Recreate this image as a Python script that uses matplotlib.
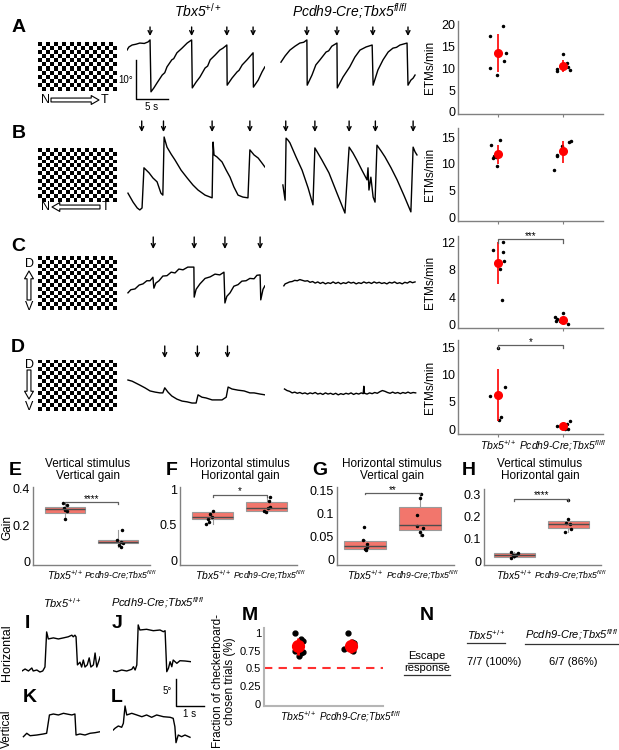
import numpy as np
import matplotlib
matplotlib.use('Agg')
import matplotlib.pyplot as plt
from matplotlib.lines import Line2D

plt.rcParams['font.family'] = ['Liberation Sans', 'DejaVu Sans']
plt.rcParams['mathtext.fontset'] = 'custom'
plt.rcParams['mathtext.rm'] = 'Liberation Sans'
plt.rcParams['mathtext.it'] = 'Liberation Sans:italic'
plt.rcParams['mathtext.bf'] = 'Liberation Sans:bold'

WT = 'Tbx5$^{+/+}$'
KO = 'Pcdh9-Cre;Tbx5$^{fl/fl}$'

# ---------------- data ----------------
# eye position traces, rows A-D: time (s), position (deg)
a_wt_t = [0, 0.3, 0.8, 1.4, 2.0, 2.7, 3.3, 3.6, 3.75, 4.2, 4.7, 5.5, 5.9, 6.25, 7.0, 7.3, 7.8, 8.6, 9.4, 10.1,
          10.2, 10.8, 11.4, 12.2, 12.6, 13.0, 13.75, 14.5, 15.0, 15.6, 15.65, 16.4, 17.2, 17.5, 18.0, 18.75, 19.7,
          19.75, 20.5, 21.1, 21.55]
a_wt_y = [12.8, 13.6, 14.1, 14.3, 14.6, 14.5, 14.9, 15.4, 2.1, 3.1, 4.4, 6.4, 7.0, 8.5, 10.3, 10.6, 12.1, 13.3, 14.6, 15.4,
          3.1, 4.6, 5.9, 8.2, 8.7, 10.3, 11.5, 12.8, 13.3, 14.1, 3.8, 5.6, 7.2, 7.6, 9.0, 10.3, 12.1,
          3.3, 5.1, 7.2, 8.5]
a_ko_t = [0.15, 0.8, 1.55, 2.35, 3.1, 3.7, 4.2, 4.25, 5.0, 5.6, 6.25, 7.2, 7.6, 8.1, 8.9, 8.95, 9.85, 10.9, 11.7, 12.5,
          13.45, 14.4, 14.55, 15.3, 16.1, 16.9, 17.65, 18.2, 18.75, 19.85, 20.0, 20.45, 20.8, 21.1]
a_ko_y = [9.7, 11.3, 12.8, 13.8, 14.6, 14.8, 15.4, 3.8, 6.4, 9.0, 10.3, 12.3, 12.6, 13.8, 14.6, 3.1, 5.9, 8.5, 11.0, 12.8,
          13.6, 14.1, 3.8, 7.7, 10.3, 12.3, 13.3, 13.5, 14.1, 14.6, 3.8, 5.1, 5.6, 6.4]
b_wt_t = [0.15, 0.95, 1.6, 2.0, 2.35, 2.65, 3.45, 4.05, 4.7, 5.3, 5.6, 5.8, 6.25, 6.9, 7.5, 8.45, 9.4, 10.3, 11.1, 12.2,
          13.3, 13.45, 13.6, 14.05, 14.85, 15.5, 16.1, 16.7, 17.35, 18.1, 18.9, 19.2, 19.85, 20.5, 21.1, 21.55]
b_wt_y = [5.6, 3.3, 1.8, 1.3, 1.8, 12.1, 10.8, 9.5, 8.5, 5.6, 5.1, 20.0, 17.4, 15.6, 14.1, 11.5, 9.5, 7.7, 6.4, 5.1,
          4.4, 18.7, 15.4, 14.9, 13.6, 11.5, 9.7, 7.2, 5.1, 4.6, 4.4, 16.7, 15.4, 14.6, 13.3, 12.3]
b_ko_t = [0.45, 0.8, 0.95, 1.25, 1.55, 2.5, 3.45, 4.4, 5.15, 5.45, 6.55, 7.65, 8.9, 10.15, 10.8, 11.4, 12.0, 12.8, 13.6,
          13.75, 13.9, 14.2, 14.55, 14.85, 15.15, 15.8, 16.4, 17.35, 18.3, 19.4, 20.45, 20.8, 21.1, 21.4]
b_ko_y = [7.7, 3.8, 19.7, 19.2, 18.5, 14.9, 11.5, 6.9, 2.6, 17.2, 14.1, 10.8, 5.6, 0.5, 17.4, 15.9, 14.1, 11.5, 9.0,
          12.1, 6.4, 9.7, 4.6, 3.3, 17.9, 16.4, 14.9, 12.1, 9.0, 4.9, 0.8, 17.4, 16.2, 15.4]
c_wt_t = [0.15, 0.6, 1.25, 1.9, 2.5, 3.1, 3.6, 4.05, 4.2, 4.5, 5.0, 5.6, 6.25, 6.9, 7.5, 8.1, 8.75, 9.5, 10.45,
          10.5, 10.8, 11.4, 12.2, 13.0, 13.75, 14.5, 15.15, 15.3, 15.6, 16.1, 16.7, 17.35, 17.95, 18.6, 19.2,
          19.85, 20.3, 20.8, 20.9, 21.25, 21.55]
c_wt_y = [4.4, 5.2, 5.4, 6.4, 6.7, 7.5, 7.5, 8.4, 5.6, 6.9, 7.5, 8.7, 8.8, 9.7, 9.5, 10.5, 10.3, 11.0, 11.0,
          3.3, 5.3, 6.7, 8.1, 8.5, 9.2, 9.0, 9.7, 1.8, 3.5, 4.4, 6.1, 6.5, 7.4, 7.5, 8.1,
          8.0, 8.9, 9.0, 2.6, 5.3, 6.2]
c_ko_t = [0.6, 0.8, 1.1, 1.5, 1.9, 2.3, 2.7, 3.1, 3.5, 3.9, 4.3, 4.7, 5.1, 5.5, 5.9, 6.3, 6.7, 7.1, 7.5, 7.9, 8.3, 8.7,
          9.1, 9.5, 9.9, 10.3, 10.7, 11.1, 11.5, 11.9, 12.3, 12.7, 13.1, 13.5, 13.9, 14.3, 14.7, 15.1, 15.5, 15.9,
          16.3, 16.7, 17.1, 17.5, 17.9, 18.3, 18.7, 19.1, 19.5, 19.9, 20.3, 20.7, 21.1]
c_ko_y = [6.2, 6.7, 6.9, 7.2, 7.3, 7.6, 7.5, 7.8, 7.6, 7.4, 7.5, 7.1, 7.3, 6.9, 7.2, 6.8, 7.1, 6.7, 7.0, 6.8, 7.2, 6.8,
          7.1, 6.7, 7.0, 6.8, 7.2, 6.9, 7.1, 6.7, 7.0, 6.8, 7.2, 6.9, 7.1, 6.8, 7.2, 6.9, 7.1, 6.8,
          7.0, 6.7, 7.1, 6.9, 7.2, 6.8, 7.0, 6.7, 7.1, 6.9, 7.3, 7.0, 7.2]
d_wt_t = [0.15, 0.8, 1.4, 2.0, 2.8, 3.6, 4.4, 5.15, 5.6, 5.9, 6.4, 7.0, 7.8, 8.6, 9.4, 10.15, 10.8, 11.1, 11.7, 12.35,
          13.3, 14.2, 14.85, 15.5, 15.8, 16.4, 17.35, 18.3, 19.2, 19.85, 20.8, 21.55]
d_wt_y = [8.2, 7.9, 7.4, 6.9, 6.2, 5.4, 5.1, 4.9, 4.9, 6.2, 5.1, 4.1, 3.3, 2.8, 2.6, 2.3, 2.3, 4.4, 3.8, 3.6,
          3.1, 3.1, 3.1, 3.8, 6.4, 5.9, 5.6, 5.4, 4.9, 4.9, 4.6, 4.4]
d_ko_t = [0.7, 1.1, 1.5, 1.9, 2.3, 2.7, 3.1, 3.5, 3.9, 4.3, 4.7, 5.1, 5.5, 5.9, 6.3, 6.7, 7.1, 7.5, 7.9, 8.3, 8.7,
          9.1, 9.5, 9.9, 10.3, 10.7, 11.1, 11.5, 11.9, 12.3, 12.7, 13.0, 13.1, 13.2, 13.6, 14.0, 14.4, 14.8, 15.2,
          15.6, 16.0, 16.4, 16.8, 17.2, 17.6, 18.0, 18.4, 18.8, 19.2, 19.6, 20.0, 20.4, 20.8, 21.2]
d_ko_y = [5.9, 5.5, 5.3, 4.9, 5.1, 4.8, 5.0, 4.7, 4.9, 4.6, 4.9, 4.7, 5.0, 4.6, 4.8, 4.5, 4.9, 4.6, 4.8, 4.5, 4.8,
          4.4, 4.7, 4.5, 4.8, 4.6, 4.9, 4.5, 4.8, 4.6, 4.9, 4.7, 6.6, 4.8, 4.6, 4.9, 4.7, 5.0, 4.8,
          5.2, 5.5, 5.3, 5.0, 4.8, 5.1, 4.8, 5.0, 4.7, 5.0, 4.8, 5.1, 4.8, 5.0, 4.9]

# ETM times marked by arrows (s)
arr_a_wt = [3.6, 10.1, 15.6, 19.7]
arr_a_ko = [4.2, 8.9, 14.5, 20.0]
arr_b_wt = [2.3, 5.7, 13.3, 19.2]
arr_b_ko = [0.9, 5.45, 10.8, 14.9, 20.8]
arr_c_wt = [4.1, 10.5, 15.3, 20.8]
arr_d_wt = [5.9, 11.0, 15.7]

# ETM rates (ETMs/min)
etm_a_wt = [17.5, 19.8, 13.5, 11.6, 10.0, 8.4]
etm_a_ko = [13.2, 9.8, 9.5, 11.3, 10.2, 9.6]
etm_b_wt = [13.6, 14.5, 11.5, 11.0, 11.2, 9.6]
etm_b_ko = [8.8, 11.7, 11.5, 13.3, 14.0, 14.3]
etm_c_wt = [10.9, 12.0, 10.6, 9.3, 8.1, 3.6]
etm_c_ko = [1.1, 0.8, 0.5, 0.5, 1.7, 0.15]
etm_d_wt = [14.9, 6.0, 6.0, 7.7, 2.3, 1.6]
etm_d_ko = [0.6, 0.9, 1.4, 0.1, 0.05, 0.5]
etm_mean = {'A': [13.5, 10.6], 'B': [11.9, 12.3], 'C': [9.0, 0.75], 'D': [6.3, 0.6]}
etm_lo = {'A': [9.1, 9.2], 'B': [10.0, 10.2], 'C': [6.0, 0.5], 'D': [1.5, 0.4]}
etm_hi = {'A': [17.8, 11.9], 'B': [13.6, 14.3], 'C': [12.0, 1.0], 'D': [11.0, 0.8]}
# horizontal jitter of the dots
jit_a = ([-0.12, 0.08, 0.13, 0.09, -0.13, -0.02], [0.0, -0.1, -0.1, 0.06, 0.08, 0.1])
jit_b = ([-0.1, 0.03, -0.06, -0.07, -0.03, -0.02], [-0.14, -0.1, -0.09, -0.02, 0.09, 0.13])
jit_c = ([-0.08, 0.08, 0.07, 0.09, 0.03, 0.06], [-0.13, -0.09, -0.11, -0.04, 0.0, 0.08])
jit_d = ([0.0, -0.12, 0.03, 0.11, 0.05, 0.01], [-0.1, 0.06, 0.1, 0.03, 0.08, -0.02])

# gains: points and box stats [whislo, q1, med, q3, whishi]
gain_e = ([0.32, 0.31, 0.295, 0.285, 0.28, 0.236], [0.173, 0.118, 0.107, 0.10, 0.077, 0.09])
box_e = ([0.236, 0.269, 0.288, 0.302, 0.32], [0.077, 0.10, 0.109, 0.118, 0.173])
gain_f = ([0.70, 0.66, 0.62, 0.59, 0.54, 0.52], [0.90, 0.845, 0.75, 0.74, 0.68, 0.70])
box_f = ([0.52, 0.587, 0.62, 0.68, 0.70], [0.667, 0.70, 0.74, 0.82, 0.89])
gain_g = ([0.071, 0.043, 0.034, 0.024, 0.021, 0.028], [0.143, 0.134, 0.098, 0.074, 0.07, 0.061, 0.053])
box_g = ([0.02, 0.024, 0.031, 0.041, 0.044], [0.052, 0.064, 0.075, 0.114, 0.14])
gain_h = ([0.041, 0.036, 0.029, 0.021, 0.015, 0.026], [0.274, 0.19, 0.172, 0.166, 0.143, 0.131])
box_h = ([0.015, 0.018, 0.027, 0.038, 0.042], [0.131, 0.151, 0.166, 0.181, 0.19])
gjit_e = ([-0.03, 0.03, -0.02, 0.01, 0.04, 0.0], [0.08, -0.02, 0.06, 0.09, 0.06, 0.02])
gjit_f = ([0.0, -0.06, -0.02, -0.09, -0.07, -0.12], [0.06, 0.04, 0.05, 0.03, -0.02, -0.06])
gjit_g = ([-0.01, -0.03, 0.03, 0.0, 0.02, 0.04], [0.02, 0.0, -0.05, -0.06, 0.06, 0.0, 0.03])
gjit_h = ([-0.05, 0.07, -0.02, 0.0, -0.06, 0.04], [0.0, 0.0, -0.04, 0.04, 0.06, -0.06])

# I-L: saccade traces, time (s), position (deg)
i_t = [0, 0.11, 0.23, 0.35, 0.40, 0.53, 0.64, 0.74, 0.82, 0.88, 0.94, 1.12, 1.30, 1.48, 1.65, 1.78, 1.83, 1.89, 1.93,
       1.98, 2.07, 2.13, 2.19, 2.25, 2.33, 2.40, 2.46, 2.55, 2.61, 2.67, 2.73, 2.79]
i_y = [1.67, 2.04, 1.67, 2.22, 1.67, 1.85, 1.48, 1.67, 2.41, 8.9, 7.6, 7.8, 7.6, 7.8, 8.0, 8.3, 8.0, 8.3, 8.0,
       2.8, 3.3, 2.4, 3.7, 2.4, 2.8, 4.1, 2.4, 2.8, 5.0, 2.4, 3.3, 4.3]
j_t = [0, 0.13, 0.31, 0.49, 0.67, 0.73, 0.79, 0.85, 0.90, 0.96, 1.20, 1.44, 1.68, 1.80, 1.86, 1.92, 1.98, 2.04, 2.10,
       2.15, 2.28, 2.39, 2.57, 2.78]
j_y = [1.72, 1.54, 1.85, 1.67, 1.98, 2.46, 1.85, 2.78, 10.2, 9.26, 9.39, 9.13, 9.26, 8.94, 9.13, 1.54, 2.17, 3.39, 2.46,
       3.7, 3.09, 3.57, 3.52, 3.39]
k_t = [0.05, 0.17, 0.29, 0.53, 0.76, 0.88, 0.98, 1.12, 1.30, 1.48, 1.65, 1.78, 1.89, 1.93, 2.07, 2.25, 2.43, 2.61, 2.79]
k_y = [1.54, 2.17, 1.72, 1.85, 2.04, 2.17, 5.56, 5.74, 5.56, 5.87, 5.69, 5.56, 5.74, 1.85, 2.04, 1.85, 2.17, 2.28, 2.46]
l_t = [0.01, 0.07, 0.19, 0.31, 0.37, 0.43, 0.49, 0.67, 0.85, 1.03, 1.20, 1.38, 1.56, 1.80, 2.04, 2.15, 2.21, 2.25,
       2.33, 2.45, 2.57, 2.75]
l_y = [2.78, 3.09, 3.52, 3.28, 4.02, 7.22, 5.56, 5.87, 5.56, 5.24, 5.56, 5.13, 5.56, 5.24, 5.13, 4.94, 3.39, 0.43,
       1.85, 1.54, 1.85, 1.43]

# M: fraction of checkerboard-chosen trials
frac_wt = [1.0, 0.92, 0.89, 0.75, 0.72, 0.73, 0.68]
frac_ko = [1.0, 0.77, 0.87, 0.76, 0.74, 0.81, 0.86]
frac_mean = [0.82, 0.82]
frac_lo = [0.69, 0.72]
frac_hi = [0.93, 0.92]
fjit = ([-0.05, 0.06, 0.1, -0.05, 0.06, 0.1, 0.02], [-0.05, -0.13, 0.02, 0.02, 0.04, 0.0, 0.05])

# ---------------- layout helpers (pixel boxes, y from top) ----------------
W, H = 619, 750
fig = plt.figure(figsize=(W / 100, H / 100), dpi=100)
GRAY = '#808080'


def add_ax(x0, y0, x1, y1):
    return fig.add_axes([x0 / W, 1 - y1 / H, (x1 - x0) / W, (y1 - y0) / H])


def ftext(x, y, s, **kw):
    kw.setdefault('ha', 'center')
    kw.setdefault('va', 'center')
    return fig.text(x / W, 1 - y / H, s, **kw)


def trace_ax(x0, y0, x1, y1, ybase, pxs, pxd):
    ax = add_ax(x0, y0, x1, y1)
    ax.set_xlim(0, (x1 - x0) / pxs)
    ax.set_ylim((ybase - y1) / pxd, (ybase - y0) / pxd)
    ax.axis('off')
    return ax


def arrows(ax, times, y_tail, y_tip):
    for t in times:
        ax.annotate('', xy=(t, y_tip), xytext=(t, y_tail), annotation_clip=False,
                    arrowprops=dict(arrowstyle='->', lw=1.0, color='k', mutation_scale=7, shrinkA=0, shrinkB=0))


def checker(x0, y0, x1, y1, nr, nc):
    ax = add_ax(x0, y0, x1, y1)
    ax.imshow(np.indices((nr, nc)).sum(0) % 2, cmap='gray', aspect='auto', interpolation='nearest')
    ax.axis('off')


def style(ax, yt, ytl, fs):
    for s in ('top', 'right'):
        ax.spines[s].set_visible(False)
    for s in ('left', 'bottom'):
        ax.spines[s].set_color(GRAY)
        ax.spines[s].set_linewidth(1.0)
    ax.set_yticks(yt)
    ax.set_yticklabels(ytl)
    ax.tick_params(axis='y', length=0, pad=2, labelsize=fs)
    ax.tick_params(axis='x', length=2, color=GRAY, pad=1, labelsize=7.5)


def geno_ticks(ax, fs_wt, fs_ko, ko_pos=2):
    ax.set_xticks([1, ko_pos])
    ax.set_xticklabels([WT, KO], style='italic')
    lw_, lk_ = ax.get_xticklabels()
    lw_.set_fontsize(fs_wt)
    lk_.set_fontsize(fs_ko)


def bracket(ax, y, drop, stars, ys):
    ax.plot([1, 1, 2, 2], [y - drop, y, y, y - drop], color='#606060', lw=0.9, clip_on=False)
    ax.text(1.5, ys, stars, ha='center', va='center', fontsize=7)


# ---------------- panel titles ----------------
ftext(198, 11, WT, fontsize=10, style='italic')
ftext(350, 11, KO, fontsize=10, style='italic')

for lab, (x, y) in zip('ABCDEFGHIJKLMN', [(19, 27), (19, 134), (18, 247), (18, 347), (15, 470), (172, 470),
                                          (320, 470), (469, 470), (27, 623), (117, 623), (30, 697), (117, 697),
                                          (250, 616), (427, 616)]):
    ftext(x, y, lab, fontsize=14, fontweight='bold')

# ---------------- rows A-D: stimulus, traces ----------------
PXS, PXD = 6.4, 3.9
rows = [
    ('A', 22, 112, 100, (a_wt_t, a_wt_y, arr_a_wt), (a_ko_t, a_ko_y, arr_a_ko), (27, 36)),
    ('B', 118, 218, 215, (b_wt_t, b_wt_y, arr_b_wt), (b_ko_t, b_ko_y, arr_b_ko), (121, 132)),
    ('C', 232, 314, 310, (c_wt_t, c_wt_y, arr_c_wt), (c_ko_t, c_ko_y, []), (237, 249)),
    ('D', 340, 414, 412, (d_wt_t, d_wt_y, arr_d_wt), (d_ko_t, d_ko_y, []), (346, 358)),
]
for name, y0, y1, yb, wt, ko, (ya0, ya1) in rows:
    for (x0, x1), (tt, yy, at) in (((127, 265), wt), ((280, 418), ko)):
        ax = trace_ax(x0, y0, x1, y1, yb, PXS, PXD)
        ax.plot(tt, yy, color='k', lw=1.0)
        arrows(ax, at, (yb - ya0) / PXD, (yb - ya1) / PXD)
        if name == 'A' and x0 == 127:
            ax.plot([1.4, 1.4, 6.4], [10.26, 0.26, 0.26], color='k', lw=1.0, clip_on=False)
            ax.text(0.9, 5.2, '10°', ha='right', va='center', fontsize=7)
            ax.text(3.9, -1.9, '5 s', ha='center', va='center', fontsize=7)

checker(38, 42, 116, 91, 12, 20)
checker(38, 148, 116, 202, 14, 20)
checker(38, 256, 116, 310, 14, 20)
checker(38, 360, 116, 411, 13, 20)

hollow = dict(arrowstyle='simple,head_length=0.7,head_width=0.8,tail_width=0.35', fc='white', ec='k', lw=0.8,
              shrinkA=0, shrinkB=0)


def hollow_arrow(xa, ya, xb, yb):
    fig.add_artist(matplotlib.patches.FancyArrowPatch((xa / W, 1 - ya / H), (xb / W, 1 - yb / H),
                                                      transform=fig.transFigure, mutation_scale=8, **hollow))


ftext(45, 100, 'N', fontsize=9)
ftext(105, 100, 'T', fontsize=9)
hollow_arrow(51, 100, 99, 100)
ftext(46, 207, 'N', fontsize=9)
ftext(106, 207, 'T', fontsize=9)
hollow_arrow(100, 207, 52, 207)
ftext(29, 264, 'D', fontsize=9)
ftext(29, 307, 'V', fontsize=9)
hollow_arrow(29, 300, 29, 271)
ftext(29, 365, 'D', fontsize=9)
ftext(29, 407, 'V', fontsize=9)
hollow_arrow(29, 370, 29, 399)

# ---------------- ETM panels ----------------
etm_panels = [
    ('A', (458, 21, 603, 114), etm_a_wt, etm_a_ko, jit_a, (-0.5, 20.9), [0, 5, 10, 15, 20], None),
    ('B', (458, 128, 603, 221), etm_b_wt, etm_b_ko, jit_b, (-0.75, 16.7), [0, 5, 10, 15], None),
    ('C', (458, 236, 603, 328), etm_c_wt, etm_c_ko, jit_c, (-0.45, 12.9), [0, 4, 8, 12], (12.4, 0.45, '***', 12.95)),
    ('D', (458, 340, 603, 434), etm_d_wt, etm_d_ko, jit_d, (-0.9, 16.3), [0, 5, 10, 15], (15.4, 0.55, '*', 16.0)),
]
for name, box, wt, ko, jit, ylim, yt, sig in etm_panels:
    ax = add_ax(*box)
    style(ax, yt, [str(v) for v in yt], 9)
    ax.set_xlim(0.385, 2.615)
    ax.set_ylim(*ylim)
    for g, (vals, jj) in enumerate(((wt, jit[0]), (ko, jit[1]))):
        ax.plot(np.add(g + 1, jj), vals, 'o', color='k', ms=1.5, clip_on=False)
    ax.vlines([1, 2], etm_lo[name], etm_hi[name], color='red', lw=1.2)
    ax.plot([1, 2], etm_mean[name], 'o', color='red', ms=5.5)
    ax.set_ylabel('ETMs/min', fontsize=8.5, labelpad=1)
    ax.yaxis.set_label_coords(-0.15, 0.5)
    if name == 'D':
        geno_ticks(ax, 7.5, 7.5)
    else:
        ax.set_xticks([1, 2])
        ax.set_xticklabels([])
    if sig:
        bracket(ax, *sig)

# ---------------- gain panels E-H ----------------
ftext(88, 470, 'Vertical stimulus\nVertical gain', fontsize=8.5, linespacing=1.05)
ftext(240, 470, 'Horizontal stimulus\nHorizontal gain', fontsize=8.5, linespacing=1.05)
ftext(392, 470, 'Horizontal stimulus\nVertical gain', fontsize=8.5, linespacing=1.05)
ftext(540, 470, 'Vertical stimulus\nHorizontal gain', fontsize=8.5, linespacing=1.05)
ftext(7, 527, 'Gain', fontsize=8.5, rotation=90)

gain_panels = [
    ((33, 487, 150, 565), gain_e, box_e, gjit_e, (-0.02, 0.41), (0.4, 2.6), [0, 0.2, 0.4], ['0', '0.2', '0.4'],
     (0.33, 0.012, '****', 0.345)),
    ((180, 487, 297, 565), gain_f, box_f, gjit_f, (-0.07, 1.04), (0.39, 2.56), [0, 0.5, 1], ['0', '0.5', '1'],
     (0.93, 0.03, '*', 0.975)),
    ((337, 487, 454, 565), gain_g, box_g, gjit_g, (-0.011, 0.158), (0.49, 2.62), [0, 0.05, 0.1, 0.15],
     ['0', '0.05', '0.1', '0.15'], (0.146, 0.004, '**', 0.152)),
    ((484, 489, 601, 565), gain_h, box_h, gjit_h, (-0.018, 0.325), (0.44, 2.61), [0, 0.1, 0.2, 0.3],
     ['0', '0.1', '0.2', '0.3'], (0.282, 0.01, '****', 0.296)),
]
for box, pts, bst, jit, ylim, xlim, yt, ytl, sig in gain_panels:
    ax = add_ax(*box)
    style(ax, yt, ytl, 9)
    stats = [dict(whislo=b[0], q1=b[1], med=b[2], q3=b[3], whishi=b[4], fliers=[]) for b in bst]
    ax.bxp(stats, positions=[1, 2], widths=0.76, patch_artist=True, showcaps=False, showfliers=False,
           boxprops=dict(facecolor='#F2766C', edgecolor='#9a9a9a', lw=0.8),
           medianprops=dict(color='#4d4d4d', lw=1.0),
           whiskerprops=dict(color='#9a9a9a', lw=0.8))
    for g in range(2):
        ax.plot(np.add(g + 1, jit[g]), pts[g], 'o', color='k', ms=1.5)
    ax.set_xlim(*xlim)
    ax.set_ylim(*ylim)
    geno_ticks(ax, 7.5, 6.2, ko_pos=2.05)
    ax.tick_params(axis='x', length=0, pad=2)
    bracket(ax, *sig)

# ---------------- I-L ----------------
ftext(62, 603, WT, fontsize=8, style='italic')
ftext(158, 603, KO, fontsize=8, style='italic')
ftext(7, 653, 'Horizontal', fontsize=9, rotation=90)
ftext(7, 729, 'Vertical', fontsize=8.5, rotation=90)
PXS2, PXD2 = 28, 5.4
for (x0, y0, x1, y1, yb), tt, yy in (((22, 620, 100, 682, 680), i_t, i_y), ((113, 620, 191, 682, 680), j_t, j_y),
                                     ((22, 700, 100, 748, 745), k_t, k_y), ((113, 700, 191, 748, 745), l_t, l_y)):
    ax = trace_ax(x0, y0, x1, y1, yb, PXS2, PXD2)
    ax.plot(tt, yy, color='k', lw=1.0)
    if tt is l_t:
        ax.plot([2.25, 2.25, 3.25], [12.2, 7.2, 7.2], color='k', lw=1.0, clip_on=False)
        ax.text(2.1, 10.0, '5°', ha='right', va='center', fontsize=7)
        ax.text(2.75, 5.8, '1 s', ha='center', va='center', fontsize=7)

# ---------------- M ----------------
ax = add_ax(264, 628, 383, 706)
style(ax, [0, 0.25, 0.5, 0.75, 1], ['0', '0.25', '0.5', '0.75', '1'], 8)
for s in ('left', 'bottom'):
    ax.spines[s].set_color('#b5b5b5')
    ax.spines[s].set_linewidth(1.5)
ax.set_xlim(0.36, 2.6)
ax.set_ylim(-0.03, 1.07)
ax.axhline(0.5, color='#ff3030', lw=1.5, ls=(0, (4, 3)))
for g, vals in enumerate((frac_wt, frac_ko)):
    ax.plot(np.add(g + 1, fjit[g]), vals, 'o', color='k', ms=3.5, clip_on=False)
ax.vlines([1, 2], frac_lo, frac_hi, color='red', lw=2)
ax.plot([1, 2], frac_mean, 'o', color='red', ms=8.5)
geno_ticks(ax, 7.5, 7, ko_pos=2.17)
ax.tick_params(axis='x', length=0, pad=2)
ftext(224, 681, 'Fraction of checkerboard-\nchosen trials (%)', fontsize=8.5, rotation=90, linespacing=1.1)

# ---------------- N ----------------
t1 = ftext(486, 635, WT, fontsize=8, style='italic')
t2 = ftext(572, 635, KO, fontsize=8, style='italic')
t3 = ftext(427, 656, 'Escape', fontsize=8)
t4 = ftext(427, 668, 'response', fontsize=8)
ftext(494, 662, '7/7 (100%)', fontsize=8)
ftext(573, 662, '6/7 (86%)', fontsize=8)

fig.canvas.draw()
rend = fig.canvas.get_renderer()
inv = fig.transFigure.inverted()
for t in (t1, t2, t3, t4):
    bb = t.get_window_extent(rend)
    (xa, ya), (xb, _) = inv.transform([[bb.x0, bb.y0], [bb.x1, bb.y1]])
    fig.add_artist(Line2D([xa, xb], [ya - 1.5 / H, ya - 1.5 / H], color='#333333', lw=0.9))

fig.savefig('out.png', dpi=100)
